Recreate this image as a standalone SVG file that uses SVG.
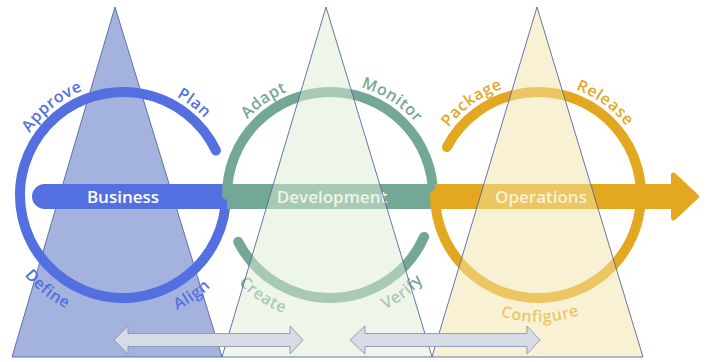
<svg xmlns="http://www.w3.org/2000/svg" width="709" height="362" viewBox="0 0 709 362">
<style>
.tri{stroke:#56659c;stroke-width:0.9}
.ring{fill:none;stroke-width:10;stroke-linecap:round}
.bar{font-family:"Open Sans","Liberation Sans",sans-serif;font-weight:600;font-size:17px;fill:#ffffff;text-anchor:middle}
.lbl{font-family:"Open Sans","Liberation Sans",sans-serif;font-weight:600;font-size:16px;letter-spacing:0.6px}
.b{fill:#5470e0}.bs{stroke:#5470e0}
.g{fill:#73a896}.gs{stroke:#73a896}
.y{fill:#e3a81f}.ys{stroke:#e3a81f}
.arr{fill:#d6dbe5;stroke:#8a96b5;stroke-width:0.9}
</style>
<defs>
<path id="top" d="M-71.99,-85.8 A112,112 0 0 1 71.99,-85.8"/>
<path id="bot" d="M-81.63,97.29 A127,127 0 0 0 81.63,97.29"/>
</defs>
<rect width="709" height="362" fill="#ffffff"/>
<g id="tri-business"><polygon class="tri" fill="#a3b3de" points="115,7 12,357 222,357"/></g>
<g id="business">
<path class="ring bs" d="M215.9,150.5 A103,103 0 1 0 226,195"/>
<path class="b" d="M44.5,184 H226 V209 H44.5 A12.5,12.5 0 0 1 44.5,184 Z"/>
<text class="bar" x="123" y="202.5">Business</text>
<text class="lbl b" transform="translate(123,195) rotate(-38.7)"><textPath href="#top" startOffset="50%" text-anchor="middle">Approve</textPath></text>
<text class="lbl b" transform="translate(123,195) rotate(37.7)"><textPath href="#top" startOffset="50%" text-anchor="middle">Plan</textPath></text>
<text class="lbl b" transform="translate(123,195) rotate(38.7)"><textPath href="#bot" startOffset="50%" text-anchor="middle">Define</textPath></text>
<text class="lbl b" transform="translate(123,195) rotate(-34.5)"><textPath href="#bot" startOffset="50%" text-anchor="middle">Align</textPath></text>
</g>
<g id="development">
<path class="ring gs" d="M227,195 A103,103 0 0 1 433,195"/>
<path class="ring gs" d="M238.2,241.8 A103,103 0 0 0 424.1,236.9"/>
<rect class="g" x="227" y="184" width="208" height="25"/>
<text class="bar" x="332" y="202.5">Development</text>
<text class="lbl g" transform="translate(330,195) rotate(-34.9)"><textPath href="#top" startOffset="50%" text-anchor="middle">Adapt</textPath></text>
<text class="lbl g" transform="translate(330,195) rotate(33.1)"><textPath href="#top" startOffset="50%" text-anchor="middle">Monitor</textPath></text>
<text class="lbl g" transform="translate(330,195) rotate(33.7)"><textPath href="#bot" startOffset="50%" text-anchor="middle">Create</textPath></text>
<text class="lbl g" transform="translate(330,195) rotate(-36.6)"><textPath href="#bot" startOffset="50%" text-anchor="middle">Verify</textPath></text>
</g>
<g id="operations">
<path class="ring ys" d="M446.9,147 A103,103 0 1 1 435,195"/>
<rect class="y" x="435" y="184" width="240" height="25"/>
<polygon class="y ys" stroke-width="5" stroke-linejoin="round" points="673.5,175 696.5,196.5 673.5,218"/>
<text class="bar" x="541" y="202.5">Operations</text>
<text class="lbl y" transform="translate(538,195) rotate(-35.6)"><textPath href="#top" startOffset="50%" text-anchor="middle">Package</textPath></text>
<text class="lbl y" transform="translate(538,195) rotate(36)"><textPath href="#top" startOffset="50%" text-anchor="middle">Release</textPath></text>
<text class="lbl y" transform="translate(538,195) rotate(-1)"><textPath href="#bot" startOffset="50%" text-anchor="middle">Configure</textPath></text>
</g>
<g id="tri-development"><polygon class="tri" fill="#ddebd3" fill-opacity="0.5" points="326,7 222,357 432,357"/></g>
<g id="tri-operations"><polygon class="tri" fill="#f3e3a8" fill-opacity="0.5" points="537,7 432,357 643,357"/></g>
<g id="connectors">
<polygon class="arr" points="114,340 128,326 128,333.5 290,333.5 290,326 303,340 290,354 290,346.5 128,346.5 128,354"/>
<polygon class="arr" points="350,340 365,326 365,333.5 527,333.5 527,326 540,340 527,354 527,346.5 365,346.5 365,354"/>
</g>
</svg>
